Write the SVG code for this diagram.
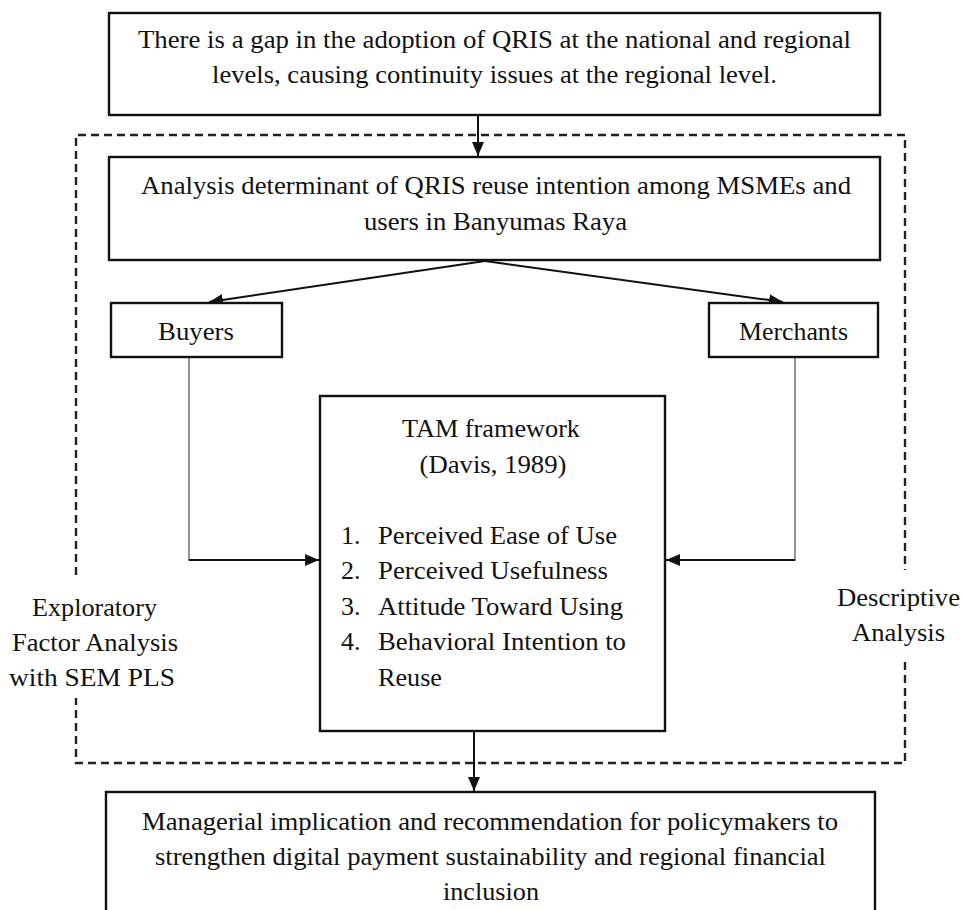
<svg xmlns="http://www.w3.org/2000/svg" width="963" height="910" viewBox="0 0 963 910" font-family="Liberation Serif, Tinos, Times New Roman, serif">
<defs>
<style>
.box{fill:#fff;stroke:#111;stroke-width:2.4}
.t{font-size:26px;fill:#111}
.c{text-anchor:middle}
.ln{fill:none;stroke:#111;stroke-width:2}
.thin{fill:none;stroke:#777;stroke-width:1.6}
.dash{fill:none;stroke:#222;stroke-width:2.4;stroke-dasharray:8 5}
</style>
<marker id="ah" viewBox="0 0 14 12" refX="14" refY="6" markerWidth="14" markerHeight="12" markerUnits="userSpaceOnUse" orient="auto">
<path d="M0,0 L14,6 L0,12 z" fill="#111"/>
</marker>
</defs>
<rect width="963" height="910" fill="#fff"/>

<g id="frame">
<path class="dash" d="M76,575 V135 H905 V570 M905,662 V763 H76 V698"/>
</g>

<g id="connectors">
<path class="ln" d="M478,115 V156" marker-end="url(#ah)"/>
<path class="ln" d="M485,261 L209,302" marker-end="url(#ah)"/>
<path class="ln" d="M485,261 L783,302" marker-end="url(#ah)"/>
<path class="thin" d="M189,357 V560 H250"/>
<path class="ln" d="M189,560 H319" stroke-width="2.4" marker-end="url(#ah)"/>
<path class="thin" d="M795,357 V560 H740"/>
<path class="ln" d="M795,560 H666" stroke-width="2.4" marker-end="url(#ah)"/>
<path class="ln" d="M474,731 V791" marker-end="url(#ah)"/>
</g>

<g id="gap">
<rect class="box" x="109" y="13" width="771" height="102"/>
<text class="t c" x="494.5" y="48" textLength="713" lengthAdjust="spacingAndGlyphs">There is a gap in the adoption of QRIS at the national and regional</text>
<text class="t c" x="494.5" y="83" textLength="565" lengthAdjust="spacingAndGlyphs">levels, causing continuity issues at the regional level.</text>
</g>

<g id="analysis">
<rect class="box" x="109" y="157" width="771" height="103"/>
<text class="t c" x="496" y="194" textLength="710" lengthAdjust="spacingAndGlyphs">Analysis determinant of QRIS reuse intention among MSMEs and</text>
<text class="t c" x="495.5" y="230" textLength="263" lengthAdjust="spacingAndGlyphs">users in Banyumas Raya</text>
</g>

<g id="buyers">
<rect class="box" x="111" y="303" width="171" height="54"/>
<text class="t c" x="196" y="340" textLength="76" lengthAdjust="spacingAndGlyphs">Buyers</text>
</g>

<g id="merchants">
<rect class="box" x="709" y="303" width="169" height="54"/>
<text class="t c" x="793.5" y="340" textLength="109" lengthAdjust="spacingAndGlyphs">Merchants</text>
</g>

<g id="tam">
<rect class="box" x="320" y="396" width="345" height="335"/>
<text class="t c" x="491" y="437" textLength="178" lengthAdjust="spacingAndGlyphs">TAM framework</text>
<text class="t c" x="493" y="473" textLength="147" lengthAdjust="spacingAndGlyphs">(Davis, 1989)</text>
<text class="t" x="341" y="544">1.</text>
<text class="t" x="378" y="544" textLength="239" lengthAdjust="spacingAndGlyphs">Perceived Ease of Use</text>
<text class="t" x="341" y="579">2.</text>
<text class="t" x="378" y="579" textLength="230" lengthAdjust="spacingAndGlyphs">Perceived Usefulness</text>
<text class="t" x="341" y="615">3.</text>
<text class="t" x="378" y="615" textLength="245" lengthAdjust="spacingAndGlyphs">Attitude Toward Using</text>
<text class="t" x="341" y="650">4.</text>
<text class="t" x="378" y="650" textLength="248" lengthAdjust="spacingAndGlyphs">Behavioral Intention to</text>
<text class="t" x="378" y="686" textLength="64" lengthAdjust="spacingAndGlyphs">Reuse</text>
</g>

<g id="efa">
<text class="t c" x="94.5" y="616" textLength="125" lengthAdjust="spacingAndGlyphs">Exploratory</text>
<text class="t c" x="95" y="651" textLength="166" lengthAdjust="spacingAndGlyphs">Factor Analysis</text>
<text class="t c" x="92" y="686" textLength="166" lengthAdjust="spacingAndGlyphs">with SEM PLS</text>
</g>

<g id="descriptive">
<text class="t c" x="898.5" y="606" textLength="123" lengthAdjust="spacingAndGlyphs">Descriptive</text>
<text class="t c" x="898.5" y="641" textLength="93" lengthAdjust="spacingAndGlyphs">Analysis</text>
</g>

<g id="implication">
<rect class="box" x="106" y="792" width="769" height="130"/>
<text class="t c" x="490" y="830" textLength="696" lengthAdjust="spacingAndGlyphs">Managerial implication and recommendation for policymakers to</text>
<text class="t c" x="490.5" y="865" textLength="671" lengthAdjust="spacingAndGlyphs">strengthen digital payment sustainability and regional financial</text>
<text class="t c" x="491" y="900" textLength="96" lengthAdjust="spacingAndGlyphs">inclusion</text>
</g>
</svg>
